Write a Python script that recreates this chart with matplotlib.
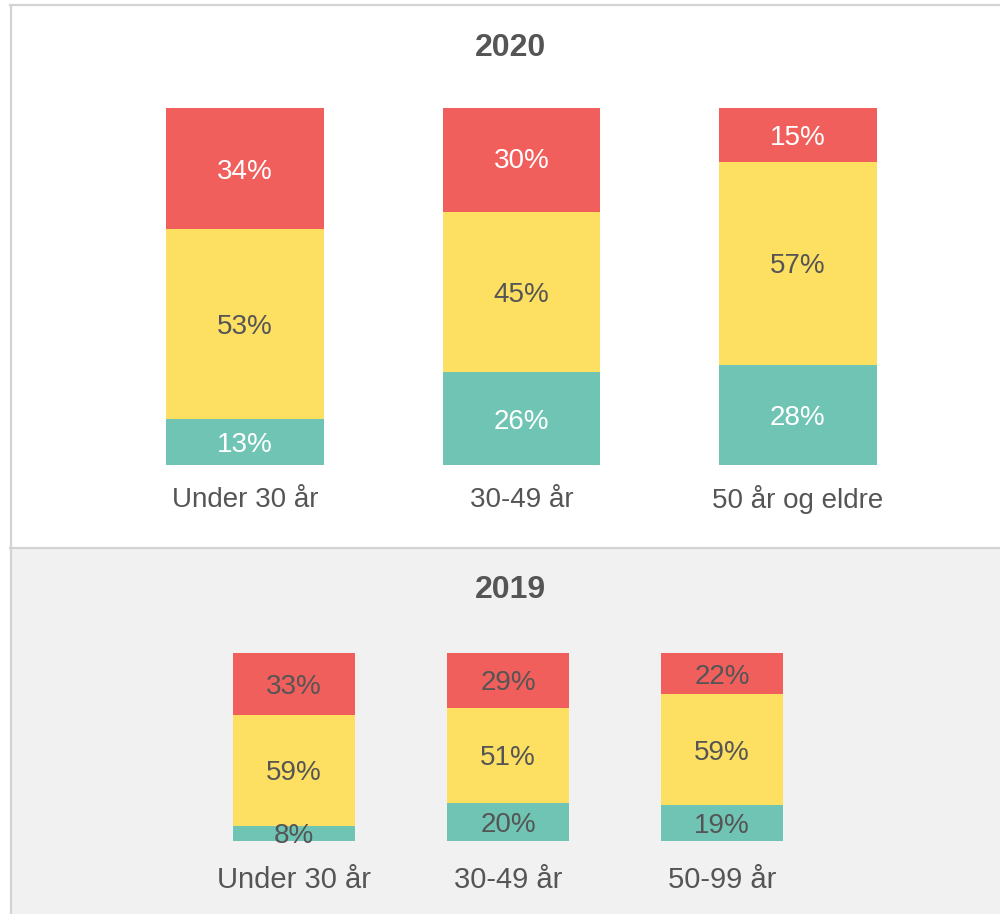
import matplotlib.pyplot as plt
from matplotlib.patches import Rectangle
from matplotlib.lines import Line2D

plt.rcParams['font.family'] = ['Liberation Sans', 'DejaVu Sans']

# 2020 panel
groups_2020 = ['Under 30 år', '30-49 år', '50 år og eldre']
green_2020 = [13, 26, 28]
yellow_2020 = [53, 45, 57]
red_2020 = [34, 30, 15]

# 2019 panel
groups_2019 = ['Under 30 år', '30-49 år', '50-99 år']
green_2019 = [8, 20, 19]
yellow_2019 = [59, 51, 59]
red_2019 = [33, 29, 22]

RED = '#f15f5c'
YELLOW = '#fde062'
GREEN = '#70c4b4'
TEXT = '#555555'
BORDER = '#d3d3d3'

W, H = 1000, 914
fig = plt.figure(figsize=(W / 100, H / 100), dpi=100)


def fx(px):
    return px / W


def fy(py):
    return 1 - py / H


# panel backgrounds and borders (kept below the axes)
fig.patches.append(Rectangle((fx(11), fy(548)), fx(989), 543 / H,
                             transform=fig.transFigure, facecolor='white',
                             edgecolor='none', zorder=-2))
fig.patches.append(Rectangle((fx(11), 0), fx(989), fy(548),
                             transform=fig.transFigure, facecolor='#f1f1f1',
                             edgecolor='none', zorder=-2))
for xs, ys in [([10.5, 10.5], [4.5, 914]), ([10, 1000], [4.5, 4.5]),
               ([10, 1000], [547.5, 547.5])]:
    fig.lines.append(Line2D([fx(x) for x in xs], [fy(y) for y in ys],
                            transform=fig.transFigure, color=BORDER, lw=1.6,
                            zorder=-1))


def panel(left, right, top, bottom, groups, green, yellow, red, white_text,
          title, title_y, label_y, size, lsize):
    ax = fig.add_axes([fx(left), fy(bottom), fx(right - left),
                       (bottom - top) / H])
    ax.set_facecolor('none')
    x = range(len(groups))
    bw = 0.571
    ax.bar(x, green, bw, color=GREEN)
    ax.bar(x, yellow, bw, bottom=green, color=YELLOW)
    base2 = [g + y for g, y in zip(green, yellow)]
    ax.bar(x, red, bw, bottom=base2, color=RED)
    ax.set_xlim(-0.5, len(groups) - 0.5)
    ax.set_ylim(0, 100)
    ax.axis('off')

    c_out = 'white' if white_text else TEXT
    kw = dict(ha='center', va='center_baseline', clip_on=False)
    for i in x:
        ax.text(i, green[i] / 2, f'{green[i]}%', color=c_out,
                fontsize=size, **kw)
        ax.text(i, green[i] + yellow[i] / 2, f'{yellow[i]}%', color=TEXT,
                fontsize=size, **kw)
        ax.text(i, base2[i] + red[i] / 2, f'{red[i]}%', color=c_out,
                fontsize=size, **kw)
        ax.text(i, -(label_y - bottom) / (bottom - top) * 100, groups[i],
                color=TEXT, fontsize=lsize, **kw)
    fig.text(fx(510), fy(title_y), title, ha='center', va='center_baseline',
             color=TEXT, fontsize=23, fontweight='bold')


panel(107, 936, 108, 465, groups_2020, green_2020, yellow_2020, red_2020,
      True, '2020', 45, 497, 20, 20)
panel(187, 829, 653, 841, groups_2019, green_2019, yellow_2019, red_2019,
      False, '2019', 587, 877, 20, 21)

fig.savefig('out.png', dpi=100)
